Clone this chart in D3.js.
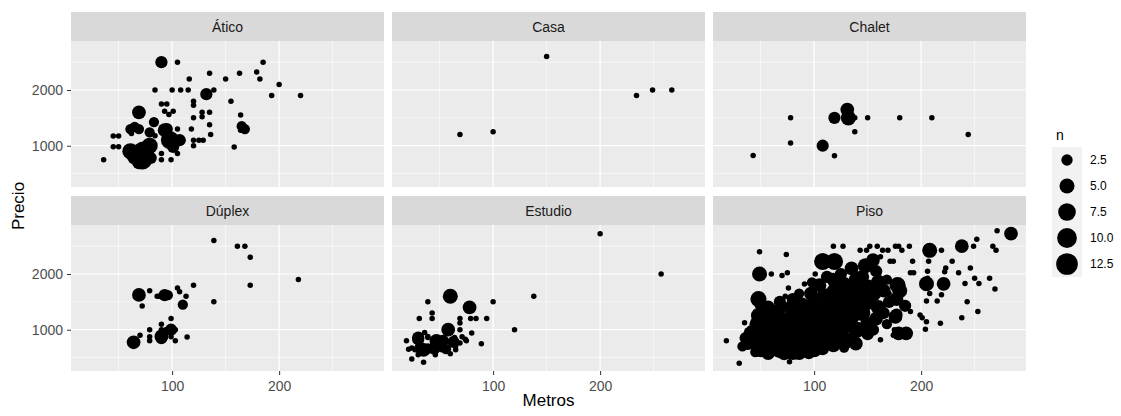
<!DOCTYPE html>
<html>
<head>
<meta charset="utf-8">
<script src="https://cdn.jsdelivr.net/npm/d3@7"></script>
<style>
  body { margin: 0; background: #fff; }
  text { font-family: Arial, "Liberation Sans", sans-serif; }
</style>
</head>
<body>
<div id="chart"></div>
<script>
// facet names, in panel order
var tipos = ["Ático", "Casa", "Chalet", "Dúplex", "Estudio", "Piso"];

// [metros, precio, n]
var aticoPts = [
  [90,2500,3],[105,2500,1],[135,2300,1],[116,2200,1],[150,2200,1],[163,2300,1],[179,2325,1],[182,2200,1],
  [185,2500,1],[200,2100,1],[193,1900,1],[220,1900,1],[155,1800,1],[164,1550,1],
  [165,1350,2],[168,1300,2],[164,1280,1],[158,975,1],
  [84,2000,1],[100,2000,1],[108,2000,1],[115,2000,1],[139,2000,1],[132,1925,3],
  [90,1750,1],[95,1750,1],[93,1620,1],[101,1620,1],[97,1560,1],
  [120,1800,1],[120,1725,1],[120,1500,1],[118,1300,1],[128,1600,1],[128,1520,1],[135,1600,1],[135,1375,1],[136,1200,1],
  [69,1600,4],[83,1425,2],
  [61,1300,2],[65,1340,2],[69,1300,2],[62,1220,1],[79,1240,2],[84,1180,1],[95,1300,3],[105,1300,1],
  [45,1175,1],[50,1175,1],[45,980,1],[50,980,1],[36,750,1],
  [61,900,6],[73,900,10],[72,750,10],[79,1000,6],[69,700,4],[76,850,5],[66,820,8],[80,780,3],
  [90,860,1],[90,750,1],[99,750,1],[105,860,1],
  [98,1100,8],[93,1280,4],[107,1100,3],[101,980,3],[110,1100,1],
  [120,1100,1],[125,1100,1],[129,1100,1],[120,1000,1]
];

var casaPts = [
  [150,2600,1],[69,1200,1],[100,1250,1],[234,1900,1],[249,2000,1],[267,2000,1]
];

var chaletPts = [
  [43,825,1],[78,1500,1],[78,1050,1],[108,1000,3],[119,820,1],[119,1500,3],[131,1650,4],[132,1500,5],
  [138,1500,1],[138,1250,1],[150,1500,1],[180,1500,1],[210,1500,1],[244,1200,1]
];

var duplexPts = [
  [139,2600,1],[161,2500,1],[168,2500,1],[173,2300,1],[173,1800,1],[218,1900,1],[139,1500,1],[120,1800,1],
  [69,1625,4],[79,1700,1],[72,1425,1],[86,1600,1],[88,1600,1],[93,1620,3],[96,1620,2],
  [105,1750,1],[107,1680,1],[113,1600,1],[110,1450,2],
  [99,1200,1],[90,1100,1],[79,1000,1],[90,1000,1],[94,1000,1],[99,1000,3],[103,1000,1],
  [70,900,1],[79,875,1],[79,800,1],[90,880,4],[90,850,3],[99,875,1],[103,800,1],[114,870,1],[64,775,4]
];

var estudioPts = [
  [200,2725,1],[257,2000,1],[138,1600,1],[100,1500,1],[120,1000,1],[89,750,1],
  [60,1600,5],[78,1400,4],[39,1500,1],
  [43,1300,1],[43,1200,1],[31,1200,1],[69,1200,1],[69,1120,1],[69,1000,1],[79,1200,1],[84,1200,1],[94,1200,1],
  [58,1000,4],[36,950,1],[39,880,1],[30,860,3],
  [19,800,1],[30,830,3],[39,860,1],[39,710,1],[47,800,4],[53,800,3],[43,720,1],[64,860,1],[65,710,1],
  [69,760,1],[74,830,1],[75,800,1],[80,940,1],[71,875,1],
  [21,650,1],[24,670,1],[27,640,1],[32,670,3],[35,640,4],[39,610,1],[46,550,1],[30,550,1],[52,640,1],
  [56,650,2],[65,640,1],[60,570,1],
  [24,475,1],[35,415,1],[45,660,3],[50,700,2],[63,780,3]
];

var pisoPts = [
  [18,800,1],[30,400,1],[35,1125,1],[40,1025,1],[33,700,2],[36,850,3],[38,760,4],[40,950,3],
  [48,1550,6],[50,1450,3],[49,1250,7],[46,1100,4],[48,950,8],[47,780,9],[50,650,6],[45,600,2],
  [57,1400,4],[60,1250,5],[56,1050,7],[58,880,10],[60,700,9],[57,580,4],
  [68,1500,3],[67,1350,4],[70,1150,6],[66,1000,8],[70,850,11],[68,660,9],[72,560,3],[73,1600,1],
  [80,1550,3],[78,1400,4],[80,1250,6],[78,1050,9],[80,880,12],[77,720,10],[80,600,6],[77,425,1],[76,1750,1],
  [86,1650,2],[88,1450,5],[86,1250,8],[90,1080,10],[88,850,13],[90,690,9],[86,590,5],[91,1820,1],[97,1830,1],
  [98,1850,2],[97,1650,4],[100,1450,7],[96,1250,9],[100,1000,13],[98,800,10],[100,650,6],[95,580,3],[101,2000,1],
  [105,1800,4],[110,1600,6],[108,1350,9],[110,1150,11],[105,900,10],[110,750,6],[108,650,3],[112,1950,3],
  [118,1900,4],[120,1700,7],[115,1500,10],[120,1250,12],[118,1050,10],[120,860,7],[118,720,4],
  [125,2000,3],[128,1800,6],[130,1550,10],[128,1350,9],[130,1100,8],[125,900,6],[130,780,4],[128,680,2],
  [135,2100,4],[140,1900,6],[138,1700,8],[140,1450,9],[135,1250,7],[140,1000,6],[139,750,4],[136,860,3],
  [148,2150,5],[145,1950,4],[150,1750,7],[148,1500,8],[145,1300,6],[150,1100,5],[150,920,3],
  [155,2250,4],[158,2050,3],[160,1850,5],[155,1650,6],[160,1400,5],[158,1200,4],[155,1000,3],[162,820,1],
  [168,1900,2],[165,1700,4],[170,1500,3],[165,1300,3],[168,1100,2],[170,1650,1],
  [178,1800,6],[180,1700,5],[177,1550,4],[185,1430,3],[176,1230,4],[175,1000,1],[179,935,4],[186,935,4],
  [174,900,1],[177,1270,3],
  [49,2400,1],[49,2000,5],[60,2000,1],[74,2350,1],[70,1975,1],[75,2025,1],
  [108,2225,7],[119,2225,7],[118,2500,1],[127,2500,1],[143,2425,1],[149,2425,1],[152,2500,1],
  [159,2500,1],[164,2425,1],[169,2425,1],[176,2500,1],[179,2500,1],[182,2425,1],[189,2500,1],
  [208,2425,5],[219,2425,1],[238,2500,4],[249,2500,1],[252,2625,1],[267,2500,1],[270,2425,1],[271,2775,1],[284,2725,4],
  [155,2230,1],[162,2310,1],[171,2230,1],[174,2230,1],[192,2230,1],[207,2230,1],[229,2230,1],
  [190,2025,1],[193,2025,1],[206,2050,1],[206,1925,1],[223,2110,1],[222,2040,1],[246,2110,1],[235,2025,1],
  [250,1925,1],[264,1925,1],[254,1830,1],[241,1830,1],[269,1730,1],
  [205,1825,5],[221,1825,4],[208,1650,1],[219,1630,1],[215,1515,1],[205,1515,1],[243,1500,1],
  [188,1440,1],[190,1325,1],[199,1265,1],[201,1215,1],[253,1325,1],[238,1215,1],
  [205,1145,1],[218,1115,1],[204,1010,1]
];

var xTicks = [100, 200];
var xMinor = [50, 150, 250];
var yTicks = [1000, 2000];
var yMinor = [500, 1500, 2500];
var legendBreaks = [2.5, 5, 7.5, 10, 12.5];
var legendLabels = ["2.5", "5.0", "7.5", "10.0", "12.5"];

var panelPts = [aticoPts, casaPts, chaletPts, duplexPts, estudioPts, pisoPts];

var W = 1121, H = 416;
var colLeft = [71, 392, 713], panelW = 313;
var stripTop = [12, 196], stripH = 29;
var panelTop = [41, 225], panelH = 146;

var x = d3.scaleLinear().domain([5.5, 298]).range([0, panelW]);
var y = d3.scaleLinear().domain([259, 2880]).range([panelH, 0]);
// ggplot area scale: rescale n to 0..1, then sqrt to diameter
var nRescale = d3.scaleLinear().domain([1, 13]).range([0, 1]);
var diam = d3.scaleSqrt().domain([0, 1]).range([5.5, 22]);
var radius = function(n){ return diam(nRescale(n)) / 2; };

var svg = d3.select("#chart").append("svg")
  .attr("width", W).attr("height", H);

svg.append("rect").attr("width", W).attr("height", H).attr("fill", "#fff");

tipos.forEach(function(tipo, i){
  var c = i % 3, r = Math.floor(i / 3);
  var px = colLeft[c];

  // strip
  svg.append("rect")
    .attr("x", px).attr("y", stripTop[r])
    .attr("width", panelW).attr("height", stripH)
    .attr("fill", "#D9D9D9");
  svg.append("text")
    .attr("x", px + panelW / 2).attr("y", stripTop[r] + stripH / 2)
    .attr("text-anchor", "middle")
    .attr("dominant-baseline", "central")
    .attr("font-size", "14px")
    .attr("fill", "#1A1A1A")
    .text(tipo);

  var g = svg.append("g").attr("transform", "translate(" + px + "," + panelTop[r] + ")");

  g.append("rect").attr("width", panelW).attr("height", panelH).attr("fill", "#EBEBEB");

  g.append("clipPath").attr("id", "clip" + i)
    .append("rect").attr("width", panelW).attr("height", panelH);

  // minor grid
  g.selectAll(".xmin").data(xMinor).enter().append("line")
    .attr("x1", function(d){ return x(d); }).attr("x2", function(d){ return x(d); })
    .attr("y1", 0).attr("y2", panelH)
    .attr("stroke", "#fff").attr("stroke-width", 0.6);
  g.selectAll(".ymin").data(yMinor).enter().append("line")
    .attr("y1", function(d){ return y(d); }).attr("y2", function(d){ return y(d); })
    .attr("x1", 0).attr("x2", panelW)
    .attr("stroke", "#fff").attr("stroke-width", 0.6);
  // major grid
  g.selectAll(".xmaj").data(xTicks).enter().append("line")
    .attr("x1", function(d){ return x(d); }).attr("x2", function(d){ return x(d); })
    .attr("y1", 0).attr("y2", panelH)
    .attr("stroke", "#fff").attr("stroke-width", 1.2);
  g.selectAll(".ymaj").data(yTicks).enter().append("line")
    .attr("y1", function(d){ return y(d); }).attr("y2", function(d){ return y(d); })
    .attr("x1", 0).attr("x2", panelW)
    .attr("stroke", "#fff").attr("stroke-width", 1.2);

  // points
  g.append("g").attr("clip-path", "url(#clip" + i + ")")
    .selectAll("circle")
    .data(panelPts[i])
    .enter()
    .append("circle")
    .attr("cx", function(d){ return x(d[0]); })
    .attr("cy", function(d){ return y(d[1]); })
    .attr("r", function(d){ return radius(d[2]); })
    .attr("fill", "#000");

  // axes
  if(c == 0){
    var ya = g.append("g").call(d3.axisLeft(y).tickValues(yTicks).tickFormat(d3.format("d")).tickSize(4).tickPadding(4));
    ya.select(".domain").remove();
    ya.selectAll("line").attr("stroke", "#333333");
    ya.selectAll("text").attr("font-size", "14px").attr("fill", "#4D4D4D")
      .style("font-family", "Arial, 'Liberation Sans', sans-serif");
  }
  if(r == 1){
    var xa = g.append("g").attr("transform", "translate(0," + panelH + ")")
      .call(d3.axisBottom(x).tickValues(xTicks).tickFormat(d3.format("d")).tickSize(4).tickPadding(6));
    xa.select(".domain").remove();
    xa.selectAll("line").attr("stroke", "#333333");
    xa.selectAll("text").attr("font-size", "14px").attr("fill", "#4D4D4D")
      .style("font-family", "Arial, 'Liberation Sans', sans-serif");
  }
});

// axis titles
svg.append("text")
  .attr("x", (colLeft[0] + colLeft[2] + panelW) / 2).attr("y", 406)
  .attr("text-anchor", "middle").attr("font-size", "17px").attr("fill", "#000")
  .text("Metros");
svg.append("text")
  .attr("transform", "translate(24,206) rotate(-90)")
  .attr("text-anchor", "middle").attr("font-size", "17px").attr("fill", "#000")
  .text("Precio");

// legend
var lg = svg.append("g").attr("transform", "translate(1052,147)");
var keyW = 30, keyH = 26;
lg.append("text").attr("x", 4).attr("y", -7).attr("font-size", "14px").attr("fill", "#000").text("n");
lg.selectAll(".key").data(legendBreaks).enter().append("rect")
  .attr("x", 0).attr("y", function(d, k){ return k * keyH; })
  .attr("width", keyW).attr("height", keyH).attr("fill", "#F2F2F2");
lg.selectAll(".kc").data(legendBreaks).enter().append("circle")
  .attr("cx", keyW / 2).attr("cy", function(d, k){ return k * keyH + keyH / 2; })
  .attr("r", function(d){ return radius(d); }).attr("fill", "#000");
lg.selectAll(".kl").data(legendLabels).enter().append("text")
  .attr("x", keyW + 8).attr("y", function(d, k){ return k * keyH + keyH / 2; })
  .attr("dominant-baseline", "central")
  .attr("font-size", "12px").attr("fill", "#000")
  .text(function(d){ return d; });
</script>
</body>
</html>
